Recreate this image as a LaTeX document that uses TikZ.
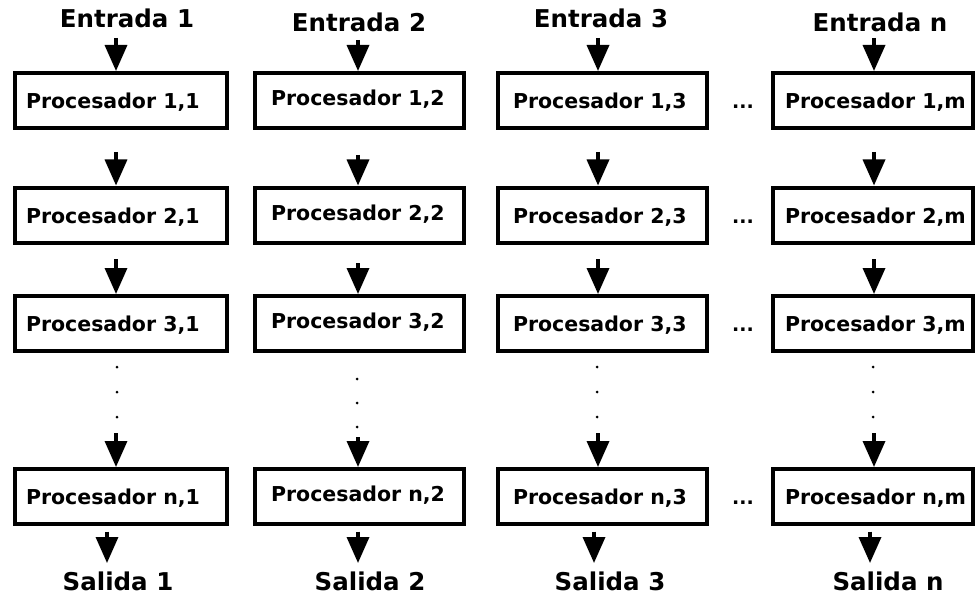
\documentclass[tikz,border=0pt]{standalone}
\usepackage{fontspec}
\setmainfont{DejaVu Sans}
\usetikzlibrary{arrows.meta}

% label inside a processor box: fixed-width box, text set from the left
\newcommand\proctext[3]{\makebox[#1][l]{\hspace*{#2}#3}}

\begin{document}
\begin{tikzpicture}[x=1pt,y=-1pt,
  proc/.style={draw, line width=4pt, inner sep=0pt, minimum height=55pt,
    text depth=0pt, font=\fontsize{20.5}{24}\selectfont\bfseries},
  title/.style={anchor=base, inner sep=0pt, font=\fontsize{24.5}{29}\selectfont\bfseries},
  hdots/.style={anchor=base, inner sep=0pt, font=\fontsize{19}{24}\selectfont\bfseries},
  arr/.style={line width=3.5pt, -{Triangle[width=22pt,length=26pt]}},
  vdot/.style={fill=black}]
\useasboundingbox (0,0) rectangle (976,596);

% processor grid: columns 1..3 and m, rows 1..3 and n
\foreach \c/\cx/\w/\o/\th/\s in {1/120.5/212/11.5/16/1, 2/359.3/209.5/16.5/10/2,
                                  3/602.5/209/15/16/3, 4/873/200/12/16/m}{
  \foreach \r/\cy/\p in {1/100.5/1, 2/215/2, 3/323.5/3, 4/496.5/n}{
    \node[proc, text height=\th pt] (p\r\c) at (\cx,\cy)
      {\proctext{\w pt}{\o pt}{Procesador \p,\s}};
  }
}

% column headings and outputs
\node[title] (e1) at (127,28) {Entrada 1};
\node[title] (e2) at (359,32) {Entrada 2};
\node[title] (e3) at (601,28) {Entrada 3};
\node[title] (e4) at (880,32) {Entrada n};
\node[title] (s1) at (118,590) {Salida 1};
\node[title] (s2) at (370,590) {Salida 2};
\node[title] (s3) at (610,590) {Salida 3};
\node[title] (s4) at (888,590) {Salida n};

% ellipses between the third and the last column
\node[hdots] (d1) at (743,108.5) {...};
\node[hdots] (d2) at (743,223) {...};
\node[hdots] (d3) at (743,331.5) {...};
\node[hdots] (d4) at (743,504.5) {...};

% arrows down each column
\foreach \c/\ax/\y/\ya/\yb/\yc/\ox in {1/116/38/152/259/433/107, 2/358/40/155/263/437/358,
                                      3/598/38/152/259/433/594, 4/874/38/152/259/433/870}{
  \coordinate (in\c) at (\ax,\y);
  \coordinate (a\c) at (\ax,\ya);
  \coordinate (b\c) at (\ax,\yb);
  \coordinate (c\c) at (\ax,\yc);
  \coordinate (out\c) at (\ox,563);
  \draw[arr] (in\c) -- (in\c |- p1\c.north);
  \draw[arr] (a\c) -- (a\c |- p2\c.north);
  \draw[arr] (b\c) -- (b\c |- p3\c.north);
  \draw[arr] (c\c) -- (c\c |- p4\c.north);
  \draw[arr, shorten <=5.5pt] (out\c |- p4\c.south) -- (out\c);
}

% vertical ellipses between row 3 and row n
\foreach \x/\y in {117/367, 117/392, 117/417, 357/379, 357/403, 357/427,
                   597/367, 597/392, 597/417, 873/367, 873/392, 873/417}
  \fill[vdot] (\x,\y) circle (1.5);
\end{tikzpicture}
\end{document}
